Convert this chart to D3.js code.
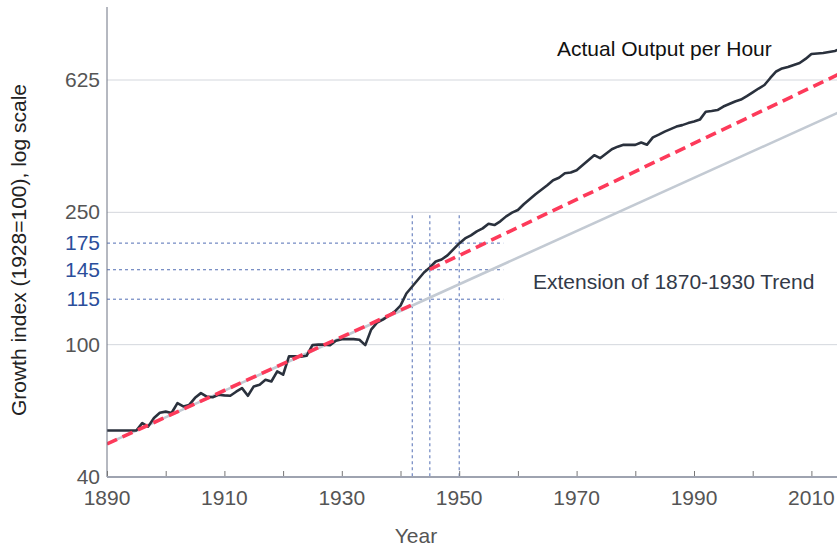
<!DOCTYPE html>
<html>
<head>
<meta charset="utf-8">
<script src="https://cdn.jsdelivr.net/npm/d3@7"></script>
<style>
  html, body { margin: 0; padding: 0; background: #fff; }
  svg { display: block; font-family: "Liberation Sans", Arial, Helvetica, sans-serif; }
</style>
</head>
<body>
<svg id="chart" width="837" height="548"></svg>
<script>
// ---- data ----
const years = d3.range(1890, 2016);
const actualOutput = [
  55.2, 55.2, 55.2, 55.2, 55.2, 55.2, 58.1, 56.7, 60.2, 62.4,   // 1890-1899
  62.9, 62.3, 66.7, 65.2, 65.9, 69.2, 71.5, 69.8, 69.5, 70.7,   // 1900-1909
  70.4, 70.2, 72.2, 74.0, 70.2, 74.9, 75.8, 78.4, 77.5, 83.1,   // 1910-1919
  81.2, 92.2, 92.2, 92.0, 92.6, 99.7, 100, 100, 99.7, 102.8,    // 1920-1929
  103.9, 104, 103.9, 103.5, 99.7, 111, 116.5, 118.9, 122.3, 125.7, // 1930-1939
  131.1, 142.5, 149.6, 157, 164.8, 170.7, 177.9, 180.4, 185.5, 193.4, // 1940-1949
  201.6, 208.7, 213.1, 219.1, 223.7, 231.1, 228.9, 234.9, 243.1, 249.5, // 1950-1959
  254, 264.3, 273.6, 283.3, 292.3, 301.5, 312.2, 317.7, 327.7, 329.3, // 1960-1969
  334.6, 346.4, 358.7, 371.3, 363.7, 375.2, 387.1, 393.9, 398.9, 398.9, // 1970-1979
  398.9, 405.6, 399.4, 419.9, 428.2, 437.2, 444.8, 452.6, 457.3, 463.7, // 1980-1989
  468.6, 475.1, 501.5, 504, 507.5, 520, 529.1, 538.4, 545.9, 559.3,     // 1990-1999
  573.9, 589.2, 603.7, 633.8, 663, 677, 684.1, 693.7, 703.2, 723.1,     // 2000-2009
  748.6, 751.2, 753.8, 759.1, 764.4, 775                               // 2010-2015
];

// trend 1870-1930 extended (endpoints, log-linear)
const trendYears = [1890, 2015];
const trendValues = [50.3, 503];

// red dashed: trend before the war, shifted trend after
const redPreYears = [1890, 1942];
const redPreValues = [50.3, 131.8];
const redPostYears = [1945, 2015];
const redPostValues = [168.3, 654.6];

// reference guides
const guideValues = [137, 168, 202];
const guideLabels = ["115", "145", "175"];
const guideEndYear = 1957.5;
const guideYears = [1942, 1945, 1950];
const guideTopValue = 245;

// axes
const yTickValues = [40, 100, 250, 625];
const xTickValues = d3.range(1890, 2011, 10);
const xLabelValues = [1890, 1910, 1930, 1950, 1970, 1990, 2010];

// ---- drawing ----
const svg = d3.select("#chart");
const x = d3.scaleLinear().domain([1890, 2015]).range([107, 107 + 125 * 5.87]);
const y = d3.scaleLog().domain([40, 625]).range([477, 80]);
const plotTop = 7, plotLeft = 107, plotBottom = 477, plotRight = 837;
const fs = 21;

svg.append("defs").append("clipPath").attr("id", "clip")
  .append("rect").attr("x", plotLeft).attr("y", plotTop)
  .attr("width", plotRight - plotLeft).attr("height", plotBottom - plotTop);

// gridlines
svg.append("g").selectAll("line").data(yTickValues.filter(v => v > 40)).join("line")
  .attr("x1", plotLeft).attr("x2", plotRight)
  .attr("y1", d => y(d)).attr("y2", d => y(d))
  .attr("stroke", "#d4d7dd").attr("stroke-width", 1);

// guides
const gGuide = svg.append("g").attr("stroke", "#3556a8").attr("stroke-width", 1)
  .attr("stroke-dasharray", "3,3").attr("opacity", 0.85);
gGuide.selectAll("line.h").data(guideValues).join("line").attr("class", "h")
  .attr("x1", x(1890)).attr("x2", x(guideEndYear))
  .attr("y1", d => y(d)).attr("y2", d => y(d));
gGuide.selectAll("line.v").data(guideYears).join("line").attr("class", "v")
  .attr("x1", d => x(d)).attr("x2", d => x(d))
  .attr("y1", y(guideTopValue)).attr("y2", y(40));

const lineGen = d3.line().x(d => x(d[0])).y(d => y(d[1]));
const plot = svg.append("g").attr("clip-path", "url(#clip)");

// gray trend extension
plot.append("path").datum(d3.zip(trendYears, trendValues))
  .attr("d", lineGen).attr("fill", "none")
  .attr("stroke", "#c3cad3").attr("stroke-width", 2.6);

// actual output
plot.append("path").datum(d3.zip(years, actualOutput))
  .attr("d", lineGen).attr("fill", "none")
  .attr("stroke", "#2a313d").attr("stroke-width", 2.6)
  .attr("stroke-linejoin", "round");

// red dashed
[[redPreYears, redPreValues], [redPostYears, redPostValues]].forEach(([ys, vs]) => {
  plot.append("path").datum(d3.zip(ys, vs))
    .attr("d", lineGen).attr("fill", "none")
    .attr("stroke", "#fd3a5a").attr("stroke-width", 3.6)
    .attr("stroke-dasharray", "11,6");
});

// y axis line
svg.append("line").attr("x1", plotLeft).attr("x2", plotLeft)
  .attr("y1", plotTop).attr("y2", plotBottom)
  .attr("stroke", "#6d7282").attr("stroke-width", 1);

// x axis
const xAxis = d3.axisBottom(x).tickValues(xTickValues).tickSize(-6).tickFormat("");
const gx = svg.append("g").attr("transform", `translate(0,${plotBottom})`).call(xAxis);
gx.select(".domain").remove();
gx.selectAll(".tick line").attr("stroke", "#777").attr("stroke-width", 1);
svg.append("line").attr("x1", plotLeft).attr("x2", plotRight)
  .attr("y1", plotBottom).attr("y2", plotBottom)
  .attr("stroke", "#9ea3b0").attr("stroke-width", 2);

svg.append("g").selectAll("text").data(xLabelValues).join("text")
  .attr("x", d => x(d)).attr("y", 505)
  .attr("text-anchor", "middle").attr("font-size", fs).attr("fill", "#555")
  .text(d => d);

// y labels
svg.append("g").selectAll("text").data(yTickValues).join("text")
  .attr("x", 100).attr("y", d => y(d) + 7)
  .attr("text-anchor", "end").attr("font-size", fs).attr("fill", "#555")
  .text(d => d);
svg.append("g").selectAll("text").data(guideValues).join("text")
  .attr("x", 100).attr("y", (d) => y(d) + 7)
  .attr("text-anchor", "end").attr("font-size", fs).attr("fill", "#2b4e9b")
  .text((d, i) => guideLabels[i]);

// titles
svg.append("text").attr("transform", "translate(26,250) rotate(-90)")
  .attr("text-anchor", "middle").attr("font-size", fs).attr("fill", "#222")
  .text("Growth index (1928=100), log scale");
svg.append("text").attr("x", 416).attr("y", 543)
  .attr("text-anchor", "middle").attr("font-size", fs).attr("fill", "#555")
  .text("Year");

// annotations
svg.append("text").attr("x", 557).attr("y", 56)
  .attr("font-size", fs).attr("fill", "#111")
  .text("Actual Output per Hour");
svg.append("text").attr("x", 533).attr("y", 289)
  .attr("font-size", fs).attr("fill", "#333a48")
  .text("Extension of 1870-1930 Trend");
</script>
</body>
</html>
